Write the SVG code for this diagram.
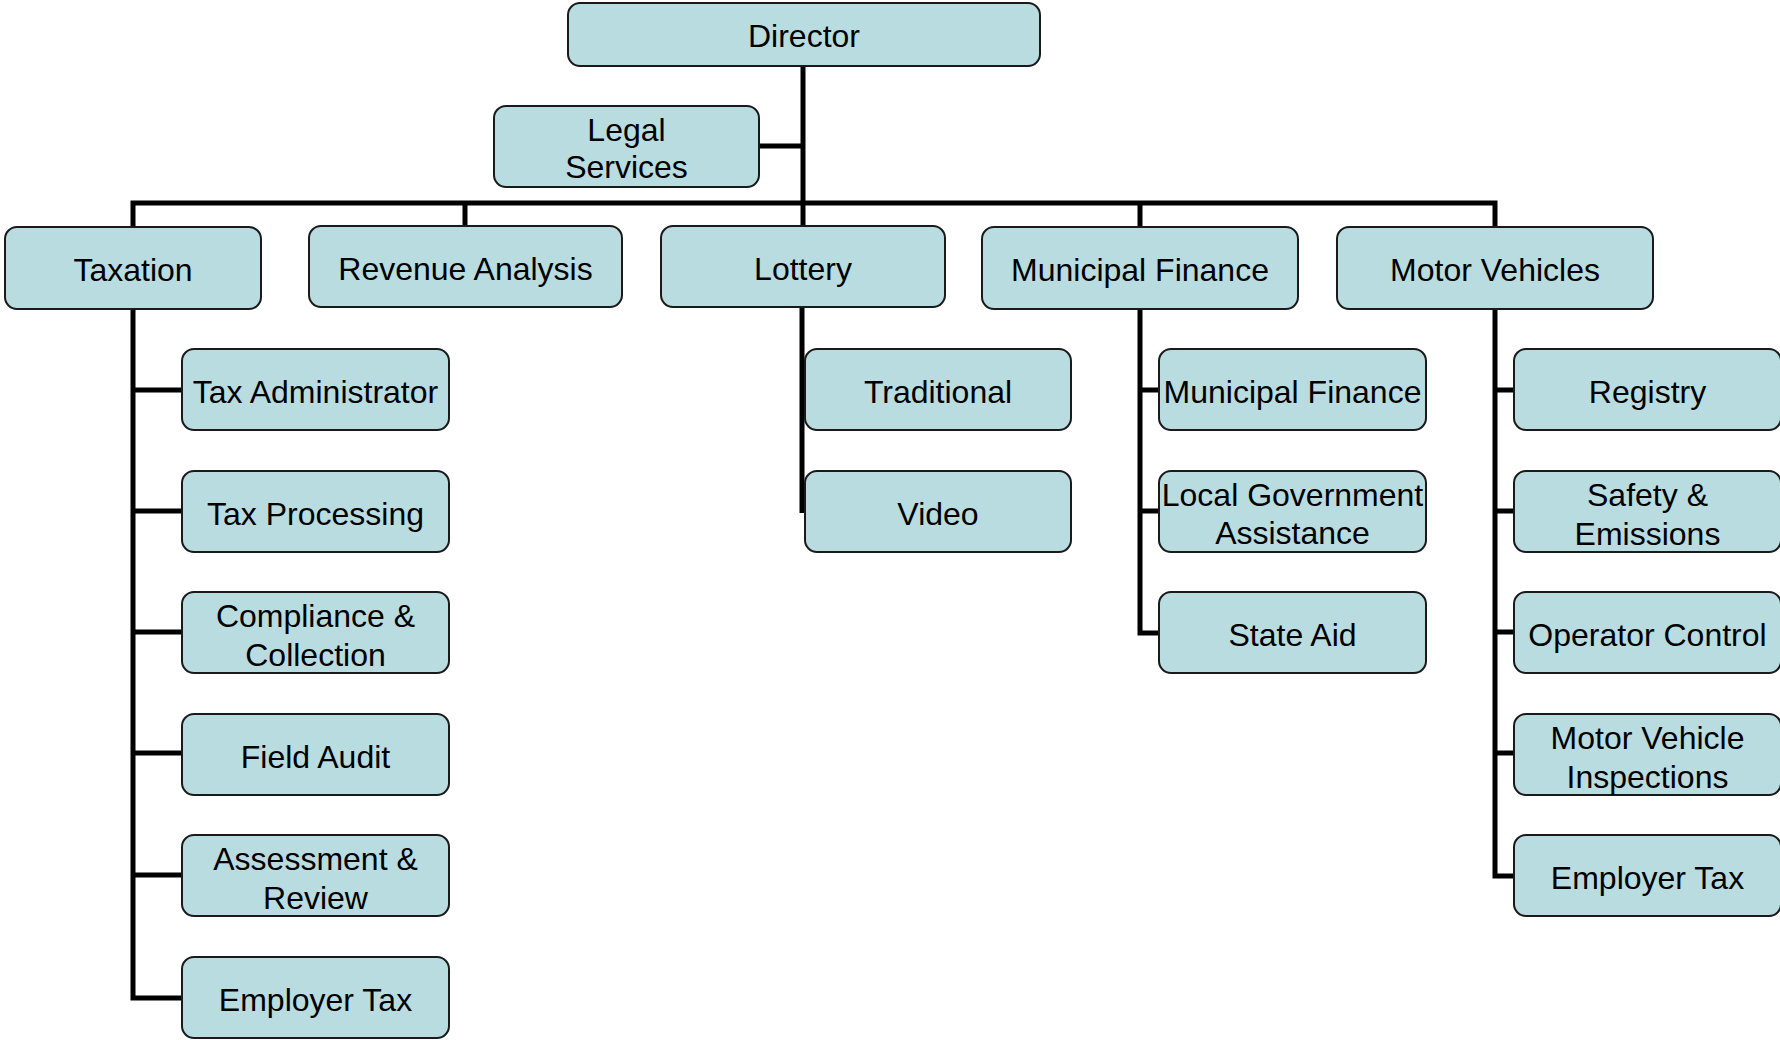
<svg xmlns="http://www.w3.org/2000/svg" width="1780" height="1040" viewBox="0 0 1780 1040">
<style>
.box{fill:#b9dce0;stroke:#1a1a1a;stroke-width:2}
.t{font-family:"Liberation Sans",Arial,sans-serif;font-size:32px;fill:#000;text-anchor:middle}
.c{fill:none;stroke:#000;stroke-width:5;stroke-linejoin:miter;stroke-linecap:butt}
</style>
<rect width="1780" height="1040" fill="#fff"/>
<g id="connectors">
<path class="c" d="M803,66 V226"/>
<path class="c" d="M759,146 H803"/>
<path class="c" d="M133,227 V203 H1495 V227"/>
<path class="c" d="M465,203 V226"/>
<path class="c" d="M1140,203 V227"/>
<path class="c" d="M133,309 V998 H182 M133,390 H182 M133,511 H182 M133,632 H182 M133,753 H182 M133,875 H182"/>
<path class="c" d="M802,307 V513"/>
<path class="c" d="M1140,309 V633 H1159 M1140,390 H1159 M1140,511 H1159"/>
<path class="c" d="M1495,309 V876 H1514 M1495,390 H1514 M1495,511 H1514 M1495,632 H1514 M1495,753 H1514"/>
</g>
<g id="director"><rect class="box" x="568" y="3" width="472" height="63" rx="12"/><text class="t" x="804" y="47">Director</text></g>
<g id="legal"><rect class="box" x="494" y="106" width="265" height="81" rx="12"/><text class="t" x="626.5" y="141">Legal</text><text class="t" x="626.5" y="178">Services</text></g>
<g id="taxation"><rect class="box" x="5" y="227" width="256" height="82" rx="12"/><text class="t" x="133" y="281">Taxation</text></g>
<g id="revenue"><rect class="box" x="309" y="226" width="313" height="81" rx="12"/><text class="t" x="465.5" y="279.5">Revenue Analysis</text></g>
<g id="lottery"><rect class="box" x="661" y="226" width="284" height="81" rx="12"/><text class="t" x="803" y="279.5">Lottery</text></g>
<g id="municipal"><rect class="box" x="982" y="227" width="316" height="82" rx="12"/><text class="t" x="1140" y="281">Municipal Finance</text></g>
<g id="motor"><rect class="box" x="1337" y="227" width="316" height="82" rx="12"/><text class="t" x="1495" y="281">Motor Vehicles</text></g>

<g id="tax-admin"><rect class="box" x="182" y="349" width="267" height="81" rx="12"/><text class="t" x="315.5" y="402.5">Tax Administrator</text></g>
<g id="tax-processing"><rect class="box" x="182" y="471" width="267" height="81" rx="12"/><text class="t" x="315.5" y="524.5">Tax Processing</text></g>
<g id="compliance"><rect class="box" x="182" y="592" width="267" height="81" rx="12"/><text class="t" x="315.5" y="626.5">Compliance &amp;</text><text class="t" x="315.5" y="665.5">Collection</text></g>
<g id="field-audit"><rect class="box" x="182" y="714" width="267" height="81" rx="12"/><text class="t" x="315.5" y="767.5">Field Audit</text></g>
<g id="assessment"><rect class="box" x="182" y="835" width="267" height="81" rx="12"/><text class="t" x="315.5" y="869.5">Assessment &amp;</text><text class="t" x="315.5" y="908.5">Review</text></g>
<g id="tax-employer"><rect class="box" x="182" y="957" width="267" height="81" rx="12"/><text class="t" x="315.5" y="1010.5">Employer Tax</text></g>

<g id="traditional"><rect class="box" x="805" y="349" width="266" height="81" rx="12"/><text class="t" x="938" y="402.5">Traditional</text></g>
<g id="video"><rect class="box" x="805" y="471" width="266" height="81" rx="12"/><text class="t" x="938" y="524.5">Video</text></g>

<g id="mf-municipal"><rect class="box" x="1159" y="349" width="267" height="81" rx="12"/><text class="t" x="1292.5" y="402.5">Municipal Finance</text></g>
<g id="mf-local"><rect class="box" x="1159" y="471" width="267" height="81" rx="12"/><text class="t" x="1292.5" y="506">Local Government</text><text class="t" x="1292.5" y="544">Assistance</text></g>
<g id="mf-state"><rect class="box" x="1159" y="592" width="267" height="81" rx="12"/><text class="t" x="1292.5" y="645.5">State Aid</text></g>

<g id="registry"><rect class="box" x="1514" y="349" width="267" height="81" rx="12"/><text class="t" x="1647.5" y="402.5">Registry</text></g>
<g id="safety"><rect class="box" x="1514" y="471" width="267" height="81" rx="12"/><text class="t" x="1647.5" y="505.5">Safety &amp;</text><text class="t" x="1647.5" y="544.5">Emissions</text></g>
<g id="operator"><rect class="box" x="1514" y="592" width="267" height="81" rx="12"/><text class="t" x="1647.5" y="645.5">Operator Control</text></g>
<g id="inspections"><rect class="box" x="1514" y="714" width="267" height="81" rx="12"/><text class="t" x="1647.5" y="748.5">Motor Vehicle</text><text class="t" x="1647.5" y="787.5">Inspections</text></g>
<g id="mv-employer"><rect class="box" x="1514" y="835" width="267" height="81" rx="12"/><text class="t" x="1647.5" y="888.5">Employer Tax</text></g>
</svg>
